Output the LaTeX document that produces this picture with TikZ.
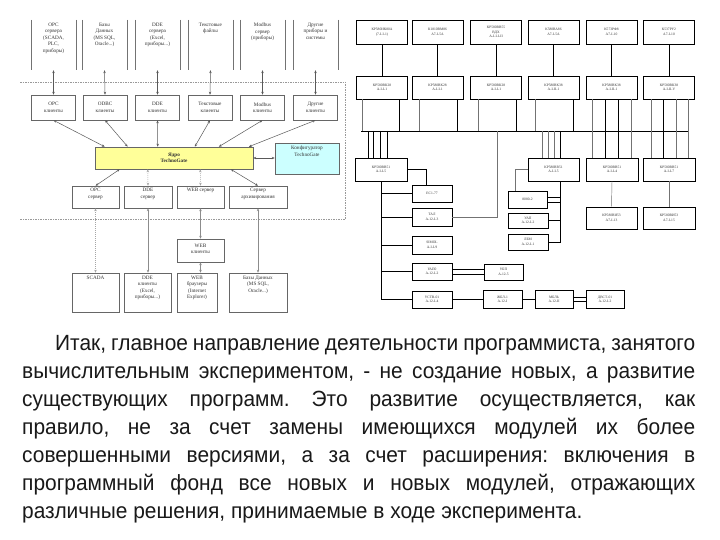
\documentclass[tikz,border=0pt]{standalone}
\usepackage{fontspec}
\setmainfont{Liberation Serif}
\newfontfamily\paraf{Liberation Sans}[FakeStretch=0.95]
\usetikzlibrary{arrows.meta,calc}
\begin{document}
\frenchspacing
\begin{tikzpicture}[x=1pt,y=-1pt,
  gbox/.style={draw=black!60, line width=0.5pt, inner sep=0pt},
  lbl/.style={font=\fontsize{5.2}{6.5}\selectfont, align=center, text=black!80, inner sep=0pt},
  dbl/.style={draw=black!65, line width=0.5pt, {Stealth[length=3pt,width=2.4pt]}-{Stealth[length=3pt,width=2.4pt]}},
  ldbl/.style={dbl, draw=black!35, dash pattern=on 1pt off 1pt},
  rbox/.style={draw=black, line width=0.5pt, inner sep=0pt, font=\fontsize{3.6}{4.4}\selectfont, align=center, text=black!80},
  wire/.style={draw=black, line width=0.5pt},
  gwire/.style={draw=black!55, line width=0.45pt},
  frame/.style={draw=black!40, line width=0.6pt, dash pattern=on 1.5pt off 1pt},
]
\useasboundingbox[fill=white] (0,0) rectangle (720,540);

% ---------------- left diagram ----------------
% top row (side borders only)
\foreach \n/\cx/\txt in {t1/53.5/{OPC\\сервера\\(SCADA,\\PLC,\\приборы)},
                         t2/104.5/{Базы\\Данных\\(MS SQL,\\Oracle...)},
                         t3/157.5/{DDE\\сервера\\(Excel,\\приборы...)},
                         t4/210.5/{Текстовые\\файлы},
                         t5/262.5/{Modbus\\сервер\\(приборы)},
                         t6/315.5/{Другие\\приборы и\\системы}}{
  \node[inner sep=0pt, minimum width=45pt, minimum height=50pt] (\n) at (\cx,45) {};
  \node[lbl, anchor=north] at ([yshift=-3pt]\n.north) {\txt};
  \draw[black!55, line width=0.5pt] (\n.north west) -- (\n.south west) (\n.north east) -- (\n.south east);
}
% clients
\foreach \n/\cx/\txt in {c1/53.5/{OPC\\клиенты}, c2/105/{ODBC\\клиенты}, c3/157.5/{DDE\\клиенты},
                         c4/210/{Текстовые\\клиенты}, c5/262.5/{Modbus\\клиенты}, c6/315.5/{Другие\\клиенты}}{
  \node[gbox, minimum width=44pt, minimum height=25pt, lbl] (\n) at (\cx,107.5) {\txt};
}
% dashed frame
\draw[frame] (20,82) -- (345,82) -- (345,219) -- (20,219);

% core and configurator
\node[gbox, fill={rgb,255:red,255;green,255;blue,153}, minimum width=158pt, minimum height=22pt,
      lbl, font=\bfseries\fontsize{5.2}{6.5}\selectfont] (core) at (174,158) {Ядро\\TechnoGate};
\node[gbox, fill={rgb,255:red,204;green,255;blue,255}, minimum width=64pt, minimum height=31pt] (conf) at (307,158.5) {};
\node[lbl, anchor=north] at ([yshift=-3pt]conf.north) {Конфигуратор\\TechnoGate};

% servers
\node[gbox, minimum width=47pt, minimum height=22pt] (s1) at (95.5,197) {};
\node[gbox, minimum width=48pt, minimum height=22pt] (s2) at (148,197) {};
\node[gbox, minimum width=47pt, minimum height=22pt] (s3) at (200.5,197) {};
\node[gbox, minimum width=58pt, minimum height=22pt] (s4) at (258,197) {};
\node[lbl, anchor=north] at ([yshift=-2.5pt]s1.north) {OPC\\сервер};
\node[lbl, anchor=north] at ([yshift=-2.5pt]s2.north) {DDE\\сервер};
\node[lbl, anchor=north] at ([yshift=-2.5pt]s3.north) {WEB сервер};
\node[lbl, anchor=north] at ([yshift=-2.5pt]s4.north) {Сервер\\архивирования};

% web clients
\node[gbox, minimum width=47pt, minimum height=23pt] (w1) at (200.5,250.5) {};
\node[lbl, anchor=north] at ([yshift=-5pt]w1.north) {WEB\\клиенты};

% bottom row
\node[gbox, minimum width=47pt, minimum height=39pt] (b1) at (95.5,292.5) {};
\node[gbox, minimum width=47pt, minimum height=39pt] (b2) at (147.5,292.5) {};
\node[gbox, minimum width=40pt, minimum height=39pt] (b3) at (197,292.5) {};
\node[gbox, minimum width=58pt, minimum height=39pt] (b4) at (258,292.5) {};
\node[lbl, anchor=north] at ([yshift=-3pt]b1.north) {SCADA};
\node[lbl, anchor=north] at ([yshift=-3pt]b2.north) {DDE\\клиенты\\(Excel,\\приборы...)};
\node[lbl, anchor=north] at ([yshift=-3pt]b3.north) {WEB\\браузеры\\(Internet\\Explorer)};
\node[lbl, anchor=north] at ([yshift=-3pt]b4.north) {Базы Данных\\(MS SQL,\\Oracle...)};

% connectors
\foreach \i in {1,...,6}{ \draw[dbl] (t\i.south) -- (c\i.north); }
\draw[dbl] (c1.south) -- ($(core.north west)+(10,0)$);
\draw[dbl] (c2.south) -- ($(core.north west)+(33,0)$);
\draw[dbl] (c3.south) -- ($(core.north west)+(63,0)$);
\draw[dbl] (c4.south) -- ($(core.north west)+(100,0)$);
\draw[dbl] (c5.south) -- ($(core.north west)+(124,0)$);
\draw[dbl] (c6.south) -- ($(core.north west)+(154,0)$);
\draw[dbl] (core.east) -- (core.east -| conf.west);
\draw[dbl] ($(core.south west)+(25,0)$) -- (s1.north);
\draw[ldbl] ($(core.south west)+(53,0)$) -- (s2.north);
\draw[ldbl] ($(core.south west)+(105.5,0)$) -- (s3.north);
\draw[dbl] ($(core.south west)+(136,0)$) -- (s4.north);
\draw[ldbl] (s1.south) -- (b1.north);
\draw[dbl, draw=black!45] (s2.south) -- (s2.south |- b2.north);
\draw[dbl, draw=black!45] (s3.south) -- (w1.north);
\draw[dbl, draw=black!45] (w1.south) -- (w1.south |- b3.north);
\draw[dbl, draw=black!45] (s4.south) -- (b4.north);

% ---------------- right diagram ----------------
\foreach \n/\cx/\txt in {r1/382/{КР580ИК80А\\(7-I-I-1)}, r2/437.5/{К1810ВМ86\\А7-I-5А},
                         r3/496/{КР580ВВ55\\ВДХ\\А-I-I-I-II}, r4/553.5/{К580ВА86\\А7-I-5А},
                         r5/611.5/{К573РФ8\\А7-I-10}, r6/669/{К537РУ2\\А7-I-10}}{
  \node[rbox, minimum width=51pt, minimum height=24pt] (\n) at (\cx,32) {\txt};
}
\foreach \n/\cx/\txt in {q1/382/{КР580ВК28\\А-I-I-1}, q2/437.5/{КР580ВК28\\А-I-I-1},
                         q3/496/{КР580ВК28\\А-I-I-1}, q4/553.5/{КР580ВК38\\А-I-II-1},
                         q5/611.5/{КР580ВК38\\А-I-II-1}, q6/669/{КР580ВК38\\А-I-II-V}}{
  \node[rbox, minimum width=51pt, minimum height=23pt] (\n) at (\cx,87.5) {\txt};
}
\foreach \i in {1,...,6}{ \draw[wire] (r\i.south) -- (q\i.north); }

% bus
\coordinate (busL) at (361,131);
\coordinate (busR) at (688,131);
\coordinate (tap) at (497,131);
\draw[wire] (busL) -- (busR);

\node[rbox, minimum width=52pt, minimum height=23pt] (p1) at (381,169.5) {КР580ВВ51\\А-I-I-5};
\node[rbox, minimum width=51pt, minimum height=23pt] (p2) at (553.5,169.5) {КР580ВВ51\\А-I-I-5};
\node[rbox, minimum width=52pt, minimum height=23pt] (p3) at (612,169.5) {КР580ВВ51\\А-I-I-4};
\node[rbox, minimum width=52pt, minimum height=23pt] (p4) at (669,169.5) {КР580ВВ51\\А-I-I-7};

% verticals q -> bus
\foreach \i/\a/\b in {1/-20/17, 2/-18.5/19.5, 3/-18/20, 4/-18.5/19.5}{
  \draw[gwire] ([xshift=\a pt]q\i.south) -- ([xshift=\a pt]q\i.south |- busL);
  \draw[wire] ([xshift=\b pt]q\i.south) -- ([xshift=\b pt]q\i.south |- busL);
}
\foreach \o/\s in {-19.5/gwire, -6.5/wire, 6.5/wire, 19.5/gwire}{
  \draw[\s] ([xshift=\o pt]q5.south) -- ([xshift=\o pt]q5.south |- p3.north);
}
\foreach \o/\s in {-18/gwire, -6/wire, 7/gwire, 19/gwire}{
  \draw[\s] ([xshift=\o pt]q6.south) -- ([xshift=\o pt]q6.south |- p4.north);
}
% bus -> p1, p2
\foreach \o in {-13,-8,-1,6}{ \draw[wire] ([xshift=\o pt]p1.north |- busL) -- ([xshift=\o pt]p1.north); }
\foreach \o/\s in {-11.5/gwire,-5.5/gwire,0.5/gwire,6.5/wire}{ \draw[\s] ([xshift=\o pt]p2.north |- busL) -- ([xshift=\o pt]p2.north); }

% left column
\node[rbox, minimum width=40pt, minimum height=17pt] (e1) at (432,193.5) {ЕС1-77};
\node[rbox, minimum width=40pt, minimum height=18pt] (e2) at (432,217) {ТАЛ\\А-12-I-3};
\node[rbox, minimum width=40pt, minimum height=18pt] (e3) at (432,245) {SIMOL\\А-I-I-9};
\node[rbox, minimum width=40pt, minimum height=17pt] (e4) at (432,271.5) {УАП0\\А-12-I-2};
\node[rbox, minimum width=40pt, minimum height=17pt] (e5) at (432,299.5) {УСТВ-01\\А-12-I-4};
\node[rbox, minimum width=39pt, minimum height=16pt] (f1) at (503.5,272) {УБП\\А-12-5};
\node[rbox, minimum width=39pt, minimum height=18pt] (g1) at (502.5,299.5) {ЖБЛ-1\\А-12-I};
\node[rbox, minimum width=38pt, minimum height=18pt] (g2) at (554,299.5) {МБЛЬ\\А-12-II};
\node[rbox, minimum width=38pt, minimum height=18pt] (g3) at (605,299.5) {ДВСТ-01\\А-12-I-2};

\draw[wire] (p1.east) -| ($(e1.north)+(-6,0)$);
\draw[wire] (p1.south) |- (e5.west);
\draw[wire] (p1.south |- e1.west) -- (e1.west);
\draw[wire] (p1.south |- e2.west) -- (e2.west);
\draw[wire] (p1.south |- e3.west) -- (e3.west);
\draw[wire] (p1.south |- e4.west) -- (e4.west);
\draw[gwire] (tap) |- (e2.east);
\draw[wire] ([yshift=2.5pt]e4.east) -- ([yshift=2.5pt]e4.east -| f1.west);
\draw[wire] ([yshift=-2.5pt]e4.east) -- ([yshift=-2.5pt]e4.east -| f1.west);
\draw[wire] (e5.east) -- (g1.west);
\draw[wire] (g1.east) -- (g2.west);
\draw[wire] ([yshift=2pt]g2.east) -- ([yshift=2pt]g2.east -| g3.west);
\draw[wire] ([yshift=-2pt]g2.east) -- ([yshift=-2pt]g2.east -| g3.west);

% middle column
\node[rbox, minimum width=39pt, minimum height=17pt] (m1) at (527.5,199.5) {8080-2};
\node[rbox, minimum width=40pt, minimum height=15pt] (m2) at (528,220.5) {УАП\\А-12-I-2};
\node[rbox, minimum width=40pt, minimum height=16pt] (m3) at (528,242) {ЛБМ\\А-12-I-1};
\coordinate (mt) at ($(p2.south)+(6.5,0)$);
\draw[gwire] (p2.west) -| ($(m1.north)+(-12.5,0)$);
\draw[wire] (mt) |- (m3.east);
\draw[wire] (m2.east) -- (m2.east -| mt);
\draw[wire] ([yshift=2.5pt]m1.east) -- ([yshift=2.5pt]m1.east -| mt);
\draw[wire] ([yshift=-2.5pt]m1.east) -- ([yshift=-2.5pt]m1.east -| mt);

% right column
\node[rbox, minimum width=51pt, minimum height=22pt] (n1) at (611.5,218) {КР580ВИ53\\А7-I-13};
\node[rbox, minimum width=52pt, minimum height=22pt] (n2) at (669,218) {КР580ВИ53\\А7-I-15};
\draw[gwire] (p3.south) -- (n1.north);
\draw[gwire] (p4.south) -- (n2.north);

% ---------------- paragraph ----------------
\node[anchor=base west, inner sep=0pt, align=left, text=black!90,
      font=\paraf\fontsize{22}{28}\selectfont] (para) at (22,518) {%
\makebox[673pt][s]{\hspace*{33pt}Итак, главное направление деятельности программиста, занятого}\\
\makebox[673pt][s]{вычислительным экспериментом, - не создание новых, а развитие}\\
\makebox[673pt][s]{существующих программ. Это развитие осуществляется, как}\\
\makebox[673pt][s]{правило, не за счет замены имеющихся модулей их более}\\
\makebox[673pt][s]{совершенными версиями, а за счет расширения: включения в}\\
\makebox[673pt][s]{программный фонд все новых и новых модулей, отражающих}\\
различные решения, принимаемые в ходе эксперимента.};
\end{tikzpicture}
\end{document}
